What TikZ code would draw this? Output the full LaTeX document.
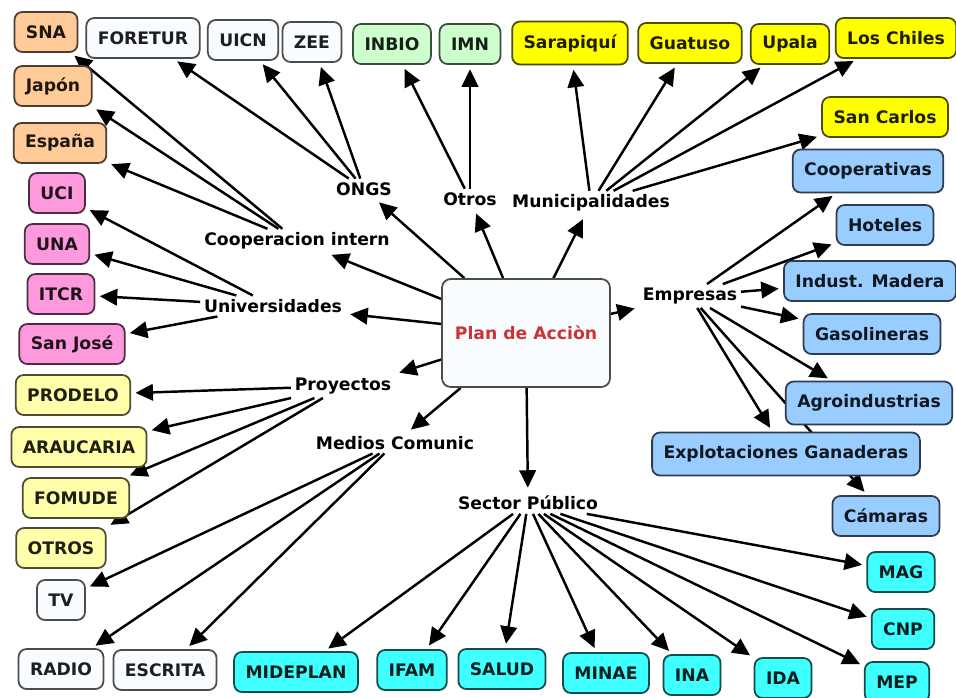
\documentclass[tikz,border=0pt]{standalone}
\usepackage{fontspec}
\setmainfont{DejaVu Sans}
\usepackage{tikz}
\usetikzlibrary{arrows.meta,backgrounds}
\definecolor{peach}{RGB}{255,204,153}
\definecolor{pinkbox}{RGB}{255,153,221}
\definecolor{paleyel}{RGB}{255,255,170}
\definecolor{yelbox}{RGB}{255,255,0}
\definecolor{bluebox}{RGB}{153,204,255}
\definecolor{cyanbox}{RGB}{64,255,255}
\definecolor{greenbox}{RGB}{204,255,204}
\definecolor{whitebox}{RGB}{249,252,255}
\definecolor{planred}{RGB}{204,51,51}
\tikzset{
  box/.style={rounded corners=4.5pt, line width=1pt, fill=#1, draw=#1!30!black, text=#1!12!black,
    minimum height=0.8cm, inner xsep=6.5pt, font=\bfseries\fontsize{9.8}{11}\selectfont},
  hub/.style={font=\bfseries\fontsize{9.8}{11}\selectfont, inner sep=2pt},
  arr/.style={black, line width=1.4pt, -{Triangle[length=3.5mm,width=3.3mm]}, shorten >=2.5pt},
}

\begin{document}
\begin{tikzpicture}
\useasboundingbox (0cm,0cm) rectangle (19.12cm,-13.94cm);
\node[box=whitebox, text=planred, minimum width=3.36cm, minimum height=2.16cm, rounded corners=5pt] (plan) at (10.52cm,-6.66cm) {Plan de Acciòn};
\node[hub] (ongs) at (7.28cm,-3.78cm) {ONGS};
\node[hub] (otros) at (9.40cm,-3.98cm) {Otros};
\node[hub] (muni) at (11.82cm,-4.06cm) {Municipalidades};
\node[hub] (coop) at (5.94cm,-4.82cm) {Cooperacion intern};
\node[hub] (univ) at (5.46cm,-6.12cm) {Universidades};
\node[hub] (empresas) at (13.80cm,-5.92cm) {Empresas};
\node[hub] (proy) at (6.86cm,-7.72cm) {Proyectos};
\node[hub] (medios) at (7.90cm,-8.86cm) {Medios Comunic};
\node[hub] (sector) at (10.56cm,-10.06cm) {Sector Público};
\node[box=peach] (sna) at (0.92cm,-0.64cm) {SNA};
\node[box=peach] (japon) at (1.06cm,-1.72cm) {Japón};
\node[box=peach] (espana) at (1.20cm,-2.86cm) {España};
\node[box=pinkbox] (uci) at (1.14cm,-3.86cm) {UCI};
\node[box=pinkbox] (una) at (1.14cm,-4.88cm) {UNA};
\node[box=pinkbox] (itcr) at (1.22cm,-5.88cm) {ITCR};
\node[box=pinkbox] (sanjose) at (1.44cm,-6.88cm) {San José};
\node[box=paleyel] (prodelo) at (1.46cm,-7.90cm) {PRODELO};
\node[box=paleyel] (araucaria) at (1.58cm,-8.94cm) {ARAUCARIA};
\node[box=paleyel] (fomude) at (1.52cm,-9.96cm) {FOMUDE};
\node[box=paleyel] (otrosp) at (1.22cm,-10.96cm) {OTROS};
\node[box=whitebox] (tv) at (1.22cm,-12.00cm) {TV};
\node[box=whitebox] (radio) at (1.22cm,-13.38cm) {RADIO};
\node[box=whitebox] (escrita) at (3.30cm,-13.40cm) {ESCRITA};
\node[box=cyanbox] (mideplan) at (5.92cm,-13.44cm) {MIDEPLAN};
\node[box=cyanbox] (ifam) at (8.24cm,-13.40cm) {IFAM};
\node[box=cyanbox] (salud) at (10.04cm,-13.38cm) {SALUD};
\node[box=cyanbox] (minae) at (12.12cm,-13.46cm) {MINAE};
\node[box=cyanbox] (ina) at (13.84cm,-13.50cm) {INA};
\node[box=cyanbox] (ida) at (15.66cm,-13.56cm) {IDA};
\node[box=cyanbox] (mep) at (17.94cm,-13.64cm) {MEP};
\node[box=cyanbox] (mag) at (18.02cm,-11.44cm) {MAG};
\node[box=cyanbox] (cnp) at (18.06cm,-12.58cm) {CNP};
\node[box=bluebox] (camaras) at (17.72cm,-10.32cm) {Cámaras};
\node[box=bluebox, minimum height=0.86cm] (explot) at (15.72cm,-9.08cm) {Explotaciones Ganaderas};
\node[box=bluebox, minimum height=0.86cm] (agro) at (17.38cm,-8.06cm) {Agroindustrias};
\node[box=bluebox] (gasol) at (17.44cm,-6.68cm) {Gasolineras};
\node[box=bluebox] (madera) at (17.40cm,-5.62cm) {Indust. Madera};
\node[box=bluebox] (hoteles) at (17.70cm,-4.50cm) {Hoteles};
\node[box=bluebox, minimum height=0.86cm] (coopv) at (17.36cm,-3.42cm) {Cooperativas};
\node[box=yelbox] (sancarlos) at (17.70cm,-2.34cm) {San Carlos};
\node[box=yelbox] (loschiles) at (17.92cm,-0.76cm) {Los Chiles};
\node[box=yelbox] (upala) at (15.80cm,-0.88cm) {Upala};
\node[box=yelbox] (guatuso) at (13.80cm,-0.86cm) {Guatuso};
\node[box=yelbox, minimum height=0.86cm] (sarapiqui) at (11.40cm,-0.86cm) {Sarapiquí};
\node[box=greenbox] (imn) at (9.40cm,-0.88cm) {IMN};
\node[box=greenbox] (inbio) at (7.84cm,-0.88cm) {INBIO};
\node[box=whitebox] (zee) at (6.24cm,-0.84cm) {ZEE};
\node[box=whitebox] (uicn) at (4.86cm,-0.80cm) {UICN};
\node[box=whitebox] (foretur) at (2.86cm,-0.76cm) {FORETUR};
\begin{scope}[on background layer]
\fill[white] (0cm,0cm) rectangle (19.12cm,-13.94cm);
\draw[arr] (plan) -- (ongs);
\draw[arr] (plan) -- (otros);
\draw[arr] (plan) -- (muni);
\draw[arr] (plan) -- (coop);
\draw[arr] (plan) -- (univ);
\draw[arr] (plan) -- (proy.north east);
\draw[arr] (plan) -- (medios);
\draw[arr] (plan) -- (sector);
\draw[arr] (plan) -- (empresas);
\draw[arr] (ongs) -- (foretur);
\draw[arr] (ongs) -- (uicn);
\draw[arr] (ongs) -- (zee);
\draw[arr] (otros) -- (inbio);
\draw[arr] (otros) -- (imn);
\draw[arr] (muni) -- (sarapiqui);
\draw[arr] (muni) -- (guatuso);
\draw[arr] (muni) -- (upala);
\draw[arr] (muni) -- (loschiles);
\draw[arr] (muni) -- (sancarlos);
\draw[arr] (coop) -- (sna);
\draw[arr] (coop) -- (japon.south east);
\draw[arr] (coop) -- (espana);
\draw[arr] (univ) -- (uci);
\draw[arr] (univ) -- (una);
\draw[arr] (univ) -- (itcr);
\draw[arr] (univ) -- (sanjose);
\draw[arr] (proy) -- (prodelo);
\draw[arr] (proy) -- (araucaria);
\draw[arr] (proy) -- (fomude);
\draw[arr] (proy) -- (otrosp.north east);
\draw[arr] (medios) -- (tv);
\draw[arr] (medios) -- (radio);
\draw[arr] (medios) -- (escrita);
\draw[arr] (sector) -- (mideplan);
\draw[arr] (sector) -- (ifam);
\draw[arr] (sector) -- (salud);
\draw[arr] (sector) -- (minae);
\draw[arr] (sector) -- (ina);
\draw[arr] (sector) -- (ida);
\draw[arr] (sector) -- (mep);
\draw[arr] (sector) -- (cnp);
\draw[arr] (sector) -- (mag);
\draw[arr] (empresas) -- (coopv);
\draw[arr] (empresas) -- (hoteles);
\draw[arr] (empresas) -- (madera);
\draw[arr] (empresas) -- (gasol);
\draw[arr] (empresas) -- (agro);
\draw[arr] (empresas) -- (explot);
\draw[arr] (empresas) -- (camaras);
\end{scope}
\end{tikzpicture}
\end{document}
